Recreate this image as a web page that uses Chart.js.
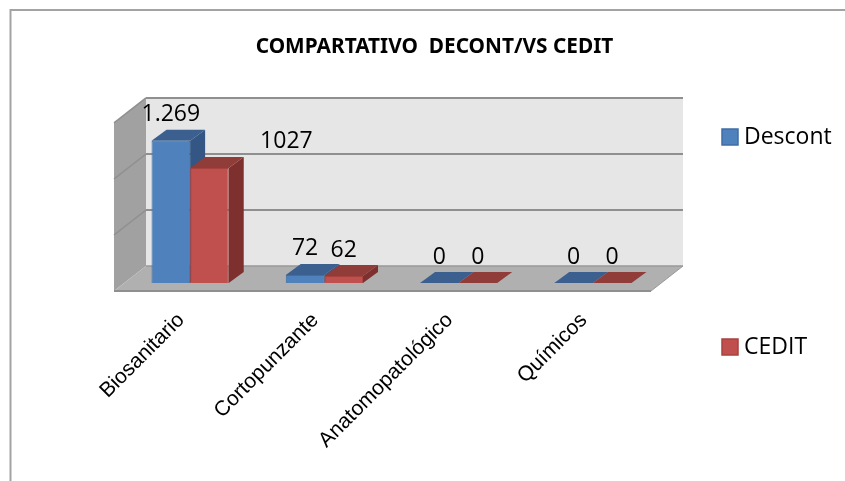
<!DOCTYPE html>
<html><head><meta charset="utf-8">
<style>html,body{margin:0;padding:0;background:#fff}canvas{display:block}</style>
<script src="https://cdn.jsdelivr.net/npm/chart.js@4"></script></head>
<body><canvas id="c" width="845" height="481"></canvas>
<script>
const categories = ['Biosanitario','Cortopunzante','Anatomopatológico','Químicos'];
const descont = [1269,72,0,0];
const cedit = [1027,62,0,0];
const descontLabels = ['1.269','72','0','0'];
const ceditLabels = ['1027','62','0','0'];
const yTicksMax = 1500, yStep = 500;

const textFont = '"Open Sans","Noto Sans",sans-serif';
const depth = {dx:15, dy:11};
const wall = {fx:-9, fy:8, bx:23, by:-17};

function poly(ctx, pts, fill, stroke, lw){
  ctx.beginPath();
  pts.forEach((p,i)=> i?ctx.lineTo(p[0],p[1]):ctx.moveTo(p[0],p[1]));
  ctx.closePath();
  if(fill){ctx.fillStyle=fill;ctx.fill();}
  if(stroke){ctx.strokeStyle=stroke;ctx.lineWidth=lw||1;ctx.stroke();}
}
function line(ctx,x1,y1,x2,y2,c,w){
  ctx.beginPath();ctx.moveTo(x1,y1);ctx.lineTo(x2,y2);ctx.strokeStyle=c;ctx.lineWidth=w;ctx.stroke();
}
const scene = {
  id:'scene',
  afterLayout(chart){
    const t = chart.titleBlock; t.left += 86;
  },
  beforeDraw(chart){
    const ctx = chart.ctx;
    ctx.save();
    line(ctx,10.5,9,10.5,481,'#a3a3a3',2);
    line(ctx,10,10,845,10,'#a3a3a3',2);
    ctx.restore();
  },
  beforeDatasetsDraw(chart){
    const ctx = chart.ctx, a = chart.chartArea, y = chart.scales.y;
    const fl=a.left+wall.fx, fr=a.right+wall.fx, bl=a.left+wall.bx, br=a.right+wall.bx;
    const fy=v=>y.getPixelForValue(v)+wall.fy, by=v=>y.getPixelForValue(v)+wall.by;
    ctx.save();
    poly(ctx,[[bl,by(yTicksMax)],[br,by(yTicksMax)],[br,by(0)],[bl,by(0)]],'#e6e6e6');
    poly(ctx,[[fl,fy(0)],[fl,fy(yTicksMax)],[bl,by(yTicksMax)],[bl,by(0)]],'#a1a1a1');
    poly(ctx,[[fl,fy(0)],[fr,fy(0)],[br,by(0)],[bl,by(0)]],'#b0b0b0');
    y.ticks.forEach(t=>{
      const v=t.value;
      if(v>0){
        line(ctx,bl,by(v),br,by(v),'#8f8f8f',2);
        line(ctx,fl,fy(v),bl,by(v),'#8f8f8f',1.5);
      }
    });
    line(ctx,bl,by(0),br,by(0),'#999999',1.5);
    line(ctx,fl,fy(0),fr,fy(0),'#8f8f8f',2);
    line(ctx,fr,fy(0),br,by(0),'#999999',1);
    // depth faces of the bars, first series underneath the second
    chart.data.datasets.forEach((ds,i)=>{
      chart.getDatasetMeta(i).data.forEach(b=>{
        const l=b.x-b.width/2, r=b.x+b.width/2, {dx,dy}=depth;
        poly(ctx,[[r,b.base],[r+dx,b.base-dy],[r+dx,b.y-dy],[r,b.y]],ds.sideColor);
        poly(ctx,[[l,b.y],[l+dx,b.y-dy],[r+dx,b.y-dy],[r,b.y]],ds.topColor);
      });
    });
    ctx.restore();
  },
  afterDatasetsDraw(chart){
    const ctx = chart.ctx;
    ctx.save();
    ctx.font = '23px '+textFont; ctx.fillStyle='#000'; ctx.textAlign='center'; ctx.textBaseline='middle';
    chart.data.datasets.forEach((ds,i)=>{
      chart.getDatasetMeta(i).data.forEach((b,j)=>{
        const shift = ds.labelShift && ds.labelShift[j] || 0;
        ctx.fillText(ds.valueLabels[j], b.x+shift, b.y-26);
      });
    });
    // legend
    const rows=[137,347];
    ctx.textAlign='left';
    chart.data.datasets.forEach((ds,i)=>{
      ctx.fillStyle=ds.backgroundColor; ctx.strokeStyle=ds.borderColor; ctx.lineWidth=1.5;
      ctx.fillRect(722,rows[i]-8,16,16); ctx.strokeRect(722,rows[i]-8,16,16);
      ctx.fillStyle='#000';
      ctx.fillText(ds.label,744,rows[i]);
    });
    ctx.restore();
  }
};
new Chart(document.getElementById('c'),{
  type:'bar',
  plugins:[scene],
  data:{labels:categories,datasets:[
    {label:'Descont',data:descont,valueLabels:descontLabels,backgroundColor:'#4f81bd',borderColor:'#3f6ea6',borderWidth:1,topColor:'#3b6090',sideColor:'#335684',categoryPercentage:0.575,barPercentage:1},
    {label:'CEDIT',data:cedit,valueLabels:ceditLabels,labelShift:[77,0,0,0],backgroundColor:'#c0504d',borderColor:'#a8423f',borderWidth:1,topColor:'#903c39',sideColor:'#7d302e',categoryPercentage:0.575,barPercentage:1}
  ]},
  options:{
    responsive:false,animation:false,
    layout:{padding:{left:123,right:185,top:0,bottom:0}},
    plugins:{
      legend:{display:false},tooltip:{enabled:false},
      title:{display:true,text:'COMPARTATIVO  DECONT/VS CEDIT',color:'#000',
        font:{family:'"Noto Sans",sans-serif',size:20.8,weight:'bold'},padding:{top:35,bottom:55}}
    },
    scales:{
      x:{grid:{display:false},border:{display:false},
        ticks:{color:'#000',font:{family:'"Liberation Sans",Arial,sans-serif',size:21},minRotation:45,maxRotation:45,autoSkip:false,padding:17,labelOffset:-9},
        afterFit(s){s.height=198;s.paddingLeft=0;s.paddingRight=0;}},
      y:{display:false,min:0,max:yTicksMax,ticks:{stepSize:yStep}}
    }
  }
});
</script></body></html>
